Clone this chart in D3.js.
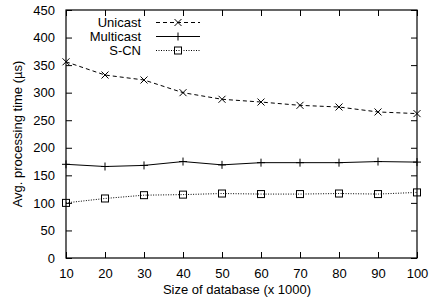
<!DOCTYPE html>
<html><head><meta charset="utf-8">
<script src="https://cdn.jsdelivr.net/npm/d3@7"></script>
<style>body{margin:0;background:#fff}svg{display:block}text{font-family:"Liberation Sans",Arial,sans-serif;fill:#000}</style>
</head><body><svg id="c" width="429" height="301"></svg>
<script>
const sizes = [10,20,30,40,50,60,70,80,90,100];
const unicast = [356,332,323,300,288,283,277,274,265,262];
const multicast = [170,166,168,175,169,173,173,173,175,174];
const scn = [100,108,114,115,117,116,116,117,116,119];
const yTicks = [0,50,100,150,200,250,300,350,400,450];
const seriesNames = ["Unicast","Multicast","S-CN"];

(function(){
const FS = "13px";
const svg = d3.select("#c");
const L=66, R=417, T=10, B=258;
const x = d3.scaleLinear().domain([10,100]).range([L,R]);
const y = d3.scaleLinear().domain([0,450]).range([B,T]);

const ax = svg.append("g");
ax.append("g").attr("transform",`translate(0,${B})`).call(d3.axisBottom(x).tickValues(sizes).tickSize(-6).tickPadding(11).tickSizeOuter(0));
ax.append("g").attr("transform",`translate(0,${T})`).call(d3.axisTop(x).tickValues(sizes).tickSize(-6).tickFormat("").tickSizeOuter(0));
ax.append("g").attr("transform",`translate(${L},0)`).call(d3.axisLeft(y).tickValues(yTicks).tickSize(-6).tickPadding(11).tickSizeOuter(0));
ax.append("g").attr("transform",`translate(${R},0)`).call(d3.axisRight(y).tickValues(yTicks).tickSize(-6).tickFormat("").tickSizeOuter(0));
ax.selectAll(".domain").remove();
ax.selectAll("line").attr("stroke","#000").attr("stroke-width",1);
ax.selectAll("text").style("font-size",FS).attr("fill","#000");
svg.append("rect").attr("x",L).attr("y",T).attr("width",R-L).attr("height",B-T).attr("fill","none").attr("stroke","#000").attr("stroke-width",1.2);

svg.append("text").attr("x",237).attr("y",294).attr("text-anchor","middle").style("font-size",FS).text("Size of database (x 1000)");
svg.append("text").attr("transform",`translate(22,${(T+B)/2}) rotate(-90)`).attr("text-anchor","middle").style("font-size",FS).text("Avg. processing time (µs)");

const styles = [
  {data:unicast, dash:"4,3", marker:"x"},
  {data:multicast, dash:null, marker:"+"},
  {data:scn, dash:"1,1.5", marker:"sq"}
];
function drawMarker(g, type, cx, cy){
  if(type==="x"){
    g.append("path").attr("d",`M${cx-3.5},${cy-3.5}L${cx+3.5},${cy+3.5}M${cx-3.5},${cy+3.5}L${cx+3.5},${cy-3.5}`).attr("stroke","#000").attr("stroke-width",1);
  } else if(type==="+"){
    g.append("path").attr("d",`M${cx-4},${cy}L${cx+4},${cy}M${cx},${cy-4}L${cx},${cy+4}`).attr("stroke","#000").attr("stroke-width",1);
  } else {
    g.append("rect").attr("x",cx-3.5).attr("y",cy-3.5).attr("width",7).attr("height",7).attr("fill","none").attr("stroke","#000").attr("stroke-width",1);
  }
}
const line = d3.line().x((d,i)=>x(sizes[i])).y(d=>y(d));
styles.forEach(s=>{
  const g = svg.append("g");
  g.append("path").attr("d",line(s.data)).attr("fill","none").attr("stroke","#000").attr("stroke-width",1).attr("stroke-dasharray",s.dash);
  s.data.forEach((d,i)=>drawMarker(g,s.marker,x(sizes[i]),y(d)));
});

seriesNames.forEach((n,i)=>{
  const yy = 22.5 + i*14;
  const g = svg.append("g");
  g.append("text").attr("x",141).attr("y",yy).attr("dy","0.35em").attr("text-anchor","end").style("font-size",FS).text(n);
  g.append("line").attr("x1",156).attr("x2",200).attr("y1",yy).attr("y2",yy).attr("stroke","#000").attr("stroke-width",1).attr("stroke-dasharray",styles[i].dash);
  drawMarker(g,styles[i].marker,178,yy);
});
})();
</script></body></html>
